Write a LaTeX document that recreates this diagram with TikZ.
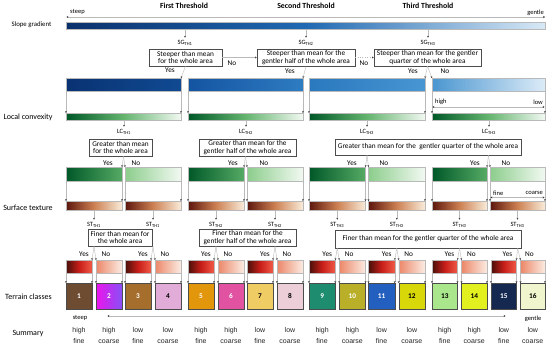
\documentclass[tikz,border=0pt]{standalone}
\usepackage{fontspec}
\setmainfont{Carlito}
\newfontfamily\sumfont{Liberation Sans}
\usetikzlibrary{arrows.meta,calc,backgrounds}

\definecolor{sgA}{RGB}{10,48,108}
\definecolor{sgB}{RGB}{32,105,178}
\definecolor{sgC}{RGB}{216,233,246}
\definecolor{bA1}{RGB}{9,50,114}\definecolor{bB1}{RGB}{16,74,146}
\definecolor{bA2}{RGB}{20,84,160}\definecolor{bB2}{RGB}{46,124,194}
\definecolor{bA3}{RGB}{42,120,190}\definecolor{bB3}{RGB}{72,150,210}
\definecolor{bA4}{RGB}{74,150,208}\definecolor{bB4}{RGB}{220,235,247}
\definecolor{gA}{RGB}{0,88,40}
\definecolor{gB}{RGB}{100,180,110}
\definecolor{gC}{RGB}{242,249,242}
\definecolor{gY}{RGB}{85,170,100}
\definecolor{gN}{RGB}{140,205,140}
\definecolor{stA}{RGB}{92,22,12}
\definecolor{stB}{RGB}{205,128,82}
\definecolor{stC}{RGB}{249,236,218}
\definecolor{rA}{RGB}{72,16,10}
\definecolor{rB}{RGB}{200,30,25}
\definecolor{rC}{RGB}{240,90,70}
\definecolor{rN1}{RGB}{236,135,105}
\definecolor{rN2}{RGB}{251,236,226}
\definecolor{halo}{RGB}{255,222,242}
\definecolor{halocyan}{RGB}{215,250,250}
\definecolor{tc1}{RGB}{110,76,50}
\definecolor{tc2a}{RGB}{236,20,236}
\definecolor{tc2b}{RGB}{135,80,245}
\definecolor{tc3}{RGB}{165,110,45}
\definecolor{tc4}{RGB}{225,172,215}
\definecolor{tc5}{RGB}{226,150,12}
\definecolor{tc6}{RGB}{225,82,160}
\definecolor{tc7}{RGB}{240,205,100}
\definecolor{tc8}{RGB}{236,206,216}
\definecolor{tc9}{RGB}{30,140,110}
\definecolor{tc10}{RGB}{185,175,40}
\definecolor{tc11}{RGB}{35,95,190}
\definecolor{tc12}{RGB}{215,215,10}
\definecolor{tc13}{RGB}{170,230,140}
\definecolor{tc14}{RGB}{225,240,30}
\definecolor{tc15}{RGB}{20,40,80}
\definecolor{tc16}{RGB}{240,245,205}

\newcommand\mkbar[6]{\node[barbase,#6,minimum width={(#4-#2)*1pt},minimum height={(#5-#3)*1pt}] (#1) at ({(#2+#4)/2},{(#3+#5)/2}) {};}

\begin{document}
\begin{tikzpicture}[x=1pt,y=-1pt,
  barbase/.style={inner sep=0pt,outer sep=0pt,draw=gray!55,line width=0.3pt},
  dbox/.style={draw=gray!60!black,line width=0.5pt,fill=white,align=center,inner sep=0pt,font=\fontsize{7.3}{7.9}\selectfont},
  conn/.style={draw=gray!55,line width=0.4pt,-{Stealth[length=1.8pt,width=1.8pt,color=black!80]}},
  scaleline/.style={draw=gray!55,line width=0.5pt,{Stealth[length=1.8pt,width=2pt,color=black!80]}-{Stealth[length=1.8pt,width=2pt,color=black!80]}},
  thlab/.style={font=\fontsize{6.5}{7}\selectfont,inner sep=0.5pt},
  ynlab/.style={font=\fontsize{7.3}{8}\selectfont,inner sep=0pt},
  rowlab/.style={font=\fontsize{8}{9}\selectfont,inner sep=0pt},
  titlelab/.style={font=\bfseries\fontsize{7.8}{9}\selectfont,inner sep=0pt},
  smalllab/.style={font=\fontsize{6.5}{7}\selectfont,inner sep=0pt},
  classbox/.style={draw=gray!60!black,line width=0.5pt,inner sep=0pt,outer sep=0pt,font=\bfseries\fontsize{7.3}{8}\selectfont},
  sumlab/.style={font=\sumfont\fontsize{7}{11}\selectfont,align=center,inner sep=0pt,text=black!85}]
\useasboundingbox[fill=white] (0,0) rectangle (550,349);

% titles and row labels
\node[titlelab] (tFirst) at (184,6) {First Threshold};
\node[titlelab] (tSecond) at (306,6) {Second Threshold};
\node[titlelab] (tThird) at (428,6) {Third Threshold};
\node[rowlab,font=\fontsize{6.8}{8}\selectfont] (lSlope) at (31.5,25) {Slope gradient};
\node[rowlab] (lLocal) at (28,117) {Local convexity};
\node[rowlab] (lSurf) at (28,208) {Surface texture};
\node[rowlab] (lTerr) at (28.5,297) {Terrain classes};
\node[rowlab] (lSum) at (28,334) {Summary};

% top scale
\node[smalllab,anchor=west] (steepT) at (70,11.5) {steep};
\node[smalllab,anchor=east] (gentleT) at (544,12.5) {gentle};
\coordinate (scA) at (66.5,17);
\coordinate (scB) at (545,17);
\draw[scaleline] (scA) -- (scB);

% slope gradient bar
\mkbar{slope}{66}{22}{545}{29}{left color=sgA,right color=sgC,middle color=sgB}

% SG thresholds
\node[thlab] (sgl1) at (185,43) {SG\textsubscript{TH1}};
\node[thlab] (sgl2) at (306,43) {SG\textsubscript{TH2}};
\node[thlab] (sgl3) at (428,43) {SG\textsubscript{TH3}};
\foreach \k in {1,2,3}{\draw[conn,shorten >=2pt] (slope.south -| sgl\k) -- (sgl\k.north);}
\node[dbox,minimum width=73pt,minimum height=17pt] (sgb1) at (185.5,57.5) {Steeper than mean\\for the whole area};
\node[dbox,minimum width=98pt,minimum height=17pt] (sgb2) at (306,57.5) {Steeper than mean for the\\gentler half of the whole area};
\node[dbox,minimum width=107pt,minimum height=17pt] (sgb3) at (427.5,57.5) {Steeper than mean for the gentler\\quarter of the whole area};

% blue bars
\mkbar{b1}{66}{78}{181}{91}{left color=bA1,right color=bB1}
\mkbar{b2}{188}{78}{303}{91}{left color=bA2,right color=bB2}
\mkbar{b3}{309}{78}{425}{91}{left color=bA3,right color=bB3}
\mkbar{b4}{432}{78}{545}{91}{left color=bA4,right color=bB4}

\draw[conn] (sgb1.east) -- (sgb2.west);
\draw[conn,dotted] (sgb2.east) -- (sgb3.west);
\draw[conn] (sgb1.south) -- (b1.north east);
\draw[conn] (sgb2.south) -- (b2.north east);
\draw[conn] (sgb3.south) -- (b3.north east);
\draw[conn] (sgb3.south) -- (b4.north west);
\node[ynlab] (ySG1) at (170,70.5) {Yes};
\node[ynlab] (nSG1) at (232,63) {No};
\node[ynlab] (ySG2) at (290,71) {Yes};
\node[ynlab] (nSG2) at (364,63) {No};
\node[ynlab] (ySG3) at (413,71) {Yes};
\node[ynlab] (nSG3) at (445,71) {No};

% local convexity bars
\foreach \i/\a/\b in {1/66/181,2/188/303,3/309/425,4/432/545}{
  \mkbar{c\i}{\a}{113}{\b}{120}{left color=gA,right color=gC,middle color=gB}
  \draw[conn] (b\i.south west) -- (c\i.north west);
  \draw[conn] (b\i.south east) -- (c\i.north east);
}
\node[smalllab,anchor=west] (highL) at (435,102) {high};
\node[smalllab,anchor=east] (lowL) at (543,102) {low};
\coordinate (hlA) at (432.5,107);
\coordinate (hlB) at (544.5,107);
\draw[scaleline] (hlA) -- (hlB);

\node[thlab] (lcl1) at (124,132) {LC\textsubscript{TH1}};
\node[thlab] (lcl2) at (246,132) {LC\textsubscript{TH2}};
\node[thlab] (lcl3) at (367,132) {LC\textsubscript{TH3}};
\node[thlab] (lcl4) at (489,132) {LC\textsubscript{TH3}};
\foreach \k in {1,2,3,4}{\draw[conn,shorten >=2pt] (c\k.south -| lcl\k) -- (lcl\k.north);}
\node[dbox,minimum width=63pt,minimum height=17pt] (lcb1) at (120.5,147.5) {Greater than mean\\for the whole area};
\node[dbox,minimum width=97pt,minimum height=17pt] (lcb2) at (247.5,147.5) {Greater than mean for the\\gentler half of the whole area};
\node[dbox,minimum width=186pt,minimum height=16pt] (lcb3) at (428,147) {Greater than mean for the\ \ gentler quarter of the whole area};

% green row 2 and surface texture bars
\foreach \i/\a/\b/\ca/\cb in {1/66/122/gA/gY,2/125/181/gN/gC,3/188/244/gA/gY,4/247/303/gN/gC,5/309/365.5/gA/gY,6/368.5/425/gN/gC,7/432/487/gA/gY,8/490/545/gN/gC}{
  \mkbar{g\i}{\a}{167}{\b}{181}{left color=\ca,right color=\cb}
  \mkbar{s\i}{\a}{201}{\b}{210}{left color=stA,right color=stC,middle color=stB}
  \draw[conn] (g\i.south west) -- (s\i.north west);
  \draw[conn] (g\i.south east) -- (s\i.north east);
}
\foreach \j/\bx in {1/lcb1,2/lcb2,3/lcb3,4/lcb3}{
  \pgfmathtruncatemacro\lft{2*\j-1}
  \pgfmathtruncatemacro\rgt{2*\j}
  \draw[conn] (\bx.south -| c\j.south) -- (g\lft.north east);
  \draw[conn] (\bx.south -| c\j.south) -- (g\rgt.north west);
}
\node[ynlab] (yLC1) at (108,163) {Yes};
\node[ynlab] (nLC1) at (136,163) {No};
\node[ynlab] (yLC2) at (233,163) {Yes};
\node[ynlab] (nLC2) at (264,163) {No};
\node[ynlab] (yLC3) at (352,163) {Yes};
\node[ynlab] (nLC3) at (384,163) {No};
\node[ynlab] (yLC4) at (475,163) {Yes};
\node[ynlab] (nLC4) at (506,163) {No};

\node[smalllab,anchor=west] (fineL) at (493,193) {fine};
\node[smalllab,anchor=east] (coarseL) at (543,193) {coarse};
\coordinate (fcA) at (490.5,197.5);
\coordinate (fcB) at (544.5,197.5);
\draw[scaleline] (fcA) -- (fcB);

% ST thresholds
\foreach \i/\t in {1/1,2/1,3/2,4/2,5/3,6/3,7/3,8/3}{
  \node[thlab] (stl\i) at (s\i.south |- 0,225) {ST\textsubscript{TH\t}};
  \draw[conn,shorten >=2pt] (s\i.south) -- (stl\i.north);
}
\node[dbox,minimum width=64pt,minimum height=17pt] (stb1) at (120,237.5) {Finer than mean for\\the whole area};
\node[dbox,minimum width=97pt,minimum height=17pt] (stb2) at (247.5,237.5) {Finer than mean for the\\gentler half of the whole area};
\node[dbox,minimum width=186pt,minimum height=18pt] (stb3) at (428,239) {Finer than mean for the gentler quarter of the whole area};

% red bars
\foreach \i/\a/\b in {1/66/92,3/125/151,5/188/214,7/247/273,9/309/335.25,11/368.5/394.75,13/432/457.5,15/491/516.5}{
  \mkbar{r\i}{\a}{260}{\b}{273}{left color=rA,right color=rC,middle color=rB}
}
\foreach \i/\a/\b in {2/96/122,4/155/181,6/218/244,8/277/303,10/339.25/365.5,12/398.75/425,14/461.5/487,16/520.5/545}{
  \mkbar{r\i}{\a}{260}{\b}{273}{left color=rN1,right color=rN2}
}
\foreach \j/\bx in {1/stb1,2/stb1,3/stb2,4/stb2,5/stb3,6/stb3,7/stb3,8/stb3}{
  \pgfmathtruncatemacro\lft{2*\j-1}
  \pgfmathtruncatemacro\rgt{2*\j}
  \draw[conn] (\bx.south -| s\j.south) -- (r\lft.north east);
  \draw[conn] (\bx.south -| s\j.south) -- (r\rgt.north west);
  \node[ynlab] (yST\j) at ($(s\j.south |- 0,254)+(-10,0)$) {Yes};
  \node[ynlab] (nST\j) at ($(s\j.south |- 0,254)+(12,0)$) {No};
}

% terrain classes
\node[classbox,left color=tc2a,right color=tc2b,text=white,minimum width=26pt,minimum height=26pt] (t2) at (109,296) {2};
\foreach \i/\a/\b/\fc/\tcol in {1/66/92/tc1/white,3/125/151/tc3/white,4/155/181/tc4/black,5/188/214/tc5/white,6/218/244/tc6/white,7/247/273/tc7/black,8/277/303/tc8/black,9/309/335.25/tc9/white,10/339.25/365.5/tc10/white,11/368.5/394.75/tc11/white,12/398.75/425/tc12/black,13/432/457.5/tc13/black,14/461.5/487/tc14/black,15/491/516.5/tc15/white,16/520.5/545/tc16/black}{
  \node[classbox,fill=\fc,text=\tcol,minimum width={(\b-\a)*1pt},minimum height=26pt] (t\i) at ({(\a+\b)/2},296) {\i};
}
\foreach \i in {1,...,16}{
  \draw[conn] (r\i.south west) -- (t\i.north west);
  \draw[conn] (r\i.south east) -- (t\i.north east);
}

% bottom scale
\node[smalllab] (steepB) at (80,318) {steep};
\node[smalllab] (gentleB) at (533,318.5) {gentle};
\coordinate (bsA) at (107.5,316);
\coordinate (bsB) at (505.5,316);
\draw[scaleline] (bsA) -- (bsB);

% summary
\foreach \i/\la/\lb in {1/high/fine,2/high/coarse,3/low/fine,4/low/coarse,5/high/fine,6/high/coarse,7/low/fine,8/low/coarse,9/high/fine,10/high/coarse,11/low/fine,12/low/coarse,13/high/fine,14/high/coarse,15/low/fine,16/low/coarse}{
  \node[sumlab] (sum\i) at (t\i.south |- 0,335.5) {\la\\\lb};
}

% soft halos
\begin{scope}[on background layer]
\foreach \i in {1,...,8}{
  \fill[halo] ($(s\i.north west)+(-2,-3)$) rectangle ($(s\i.south east)+(2,3)$);
}
\foreach \i in {1,...,16}{
  \fill[halo] ($(r\i.north west)+(-2,-3)$) rectangle ($(r\i.south east)+(2,3)$);
}
\fill[halo] ($(t2.north west)+(-2,-2)$) rectangle ($(t2.south east)+(3,3)$);
\foreach \i in {9,11,13}{
  \fill[halocyan] ($(t\i.north west)+(-3,-2)$) rectangle ($(t\i.south east)+(0,4)$);
}
\end{scope}
\end{tikzpicture}
\end{document}
